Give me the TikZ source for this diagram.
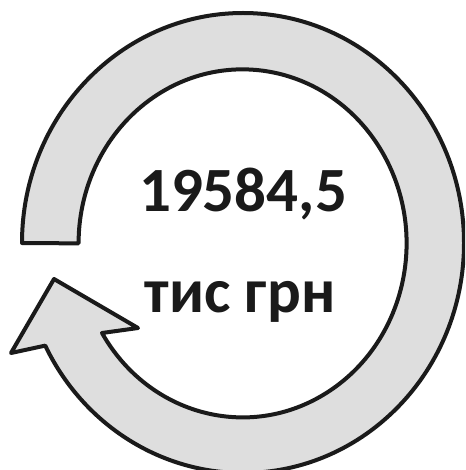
\documentclass[tikz,border=0pt]{standalone}
\usepackage{fontspec}
\setmainfont{Carlito}
\definecolor{ringfill}{HTML}{DEDEDE}
\definecolor{ink}{HTML}{1A1A1A}
\begin{document}
\begin{tikzpicture}[x=1pt,y=1pt,
  ring/.style={fill=ringfill,draw=ink,line width=4pt,line join=round},
  bigtext/.style={font=\bfseries\fontsize{63}{66}\selectfont,text=ink,inner sep=0pt}]
\useasboundingbox (0,0) rectangle (465,-470);
\clip (0,0) rectangle (465,-470);
\fill[white] (0,0) rectangle (465,-470);
\draw[ring] (22,-243)
  arc[start angle=180,end angle=-153.5,x radius=221,y radius=230]
  -- (11,-353) -- (54,-279) -- (138,-328) -- (102,-333)
  arc[start angle=-149,end angle=180,x radius=164,y radius=174]
  -- cycle;
\node[bigtext,anchor=base] (amount) at (243,-211) {19584,5};
\node[bigtext,anchor=base] (unit) at (240,-312) {тис грн};
\end{tikzpicture}
\end{document}
